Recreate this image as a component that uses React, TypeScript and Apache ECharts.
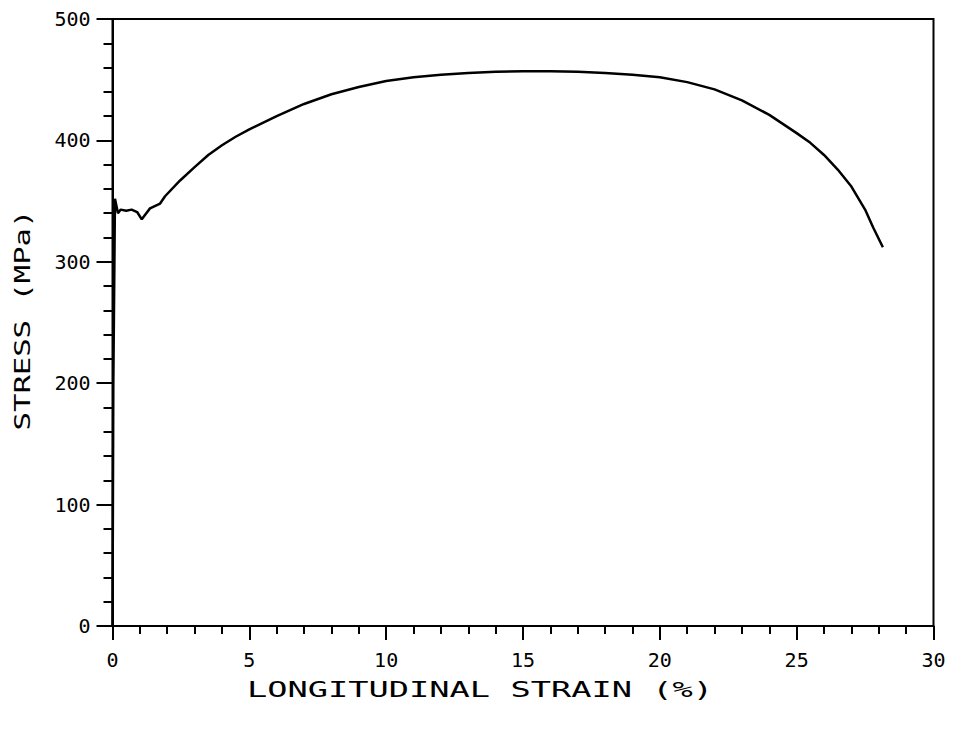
import React, { useEffect, useRef } from "react";
import * as echarts from "echarts";

const strain: number[] = [
  0, 0.03, 0.07, 0.09, 0.2, 0.3, 0.5, 0.7, 0.9, 1.07, 1.2, 1.37, 1.74, 1.92, 2.47,
  3.0, 3.5, 4.0, 4.5, 5, 6, 7, 8, 9, 10, 11, 12, 13, 14, 15, 16, 17, 18, 19, 20, 21, 22,
  23, 24, 25, 25.5, 26, 26.5, 27, 27.5, 27.8, 28.15,
];
const stress: number[] = [
  0, 200, 300, 352, 340, 343, 342, 343, 341, 335, 339, 344, 348, 354, 367,
  378, 388, 396, 403, 409, 420, 430, 438, 444, 449, 452, 454, 455.5, 456.5, 457, 457, 456.5, 455.5, 454, 452, 448, 442,
  433, 421, 406, 398, 388, 376, 362, 343, 328, 312,
];
const xTicks = { min: 0, max: 30, interval: 5 };
const yTicks = { min: 0, max: 500, interval: 100 };
const xName = "LONGITUDINAL STRAIN (%)";
const yName = "STRESS (MPa)";

export default function App() {
  const ref = useRef<HTMLDivElement>(null);
  useEffect(() => {
    if (!ref.current) return;
    const chart = echarts.init(ref.current, null, { renderer: "svg" });
    const font = '"DejaVu Sans Mono", monospace';
    chart.setOption({
      animation: false,
      backgroundColor: "#fff",
      grid: {
        left: 112.5,
        right: 19.5,
        top: 19,
        bottom: 110,
        show: true,
        borderColor: "#000",
        borderWidth: 2,
        containLabel: false,
      },
      xAxis: {
        type: "value",
        min: xTicks.min,
        max: xTicks.max,
        interval: xTicks.interval,
        axisLine: { show: true, lineStyle: { color: "#000", width: 2 } },
        axisTick: { show: true, length: 14, inside: false, lineStyle: { color: "#000", width: 2 } },
        minorTick: { show: true, splitNumber: 5, length: 8, lineStyle: { color: "#000", width: 2 } },
        splitLine: { show: false },
        axisLabel: { color: "#000", fontFamily: font, fontSize: 20, margin: 24 },
      },
      yAxis: {
        type: "value",
        min: yTicks.min,
        max: yTicks.max,
        interval: yTicks.interval,
        axisLine: { show: true, lineStyle: { color: "#000", width: 2 } },
        axisTick: { show: true, length: 16, inside: false, lineStyle: { color: "#000", width: 2 } },
        minorTick: { show: true, splitNumber: 5, length: 9, lineStyle: { color: "#000", width: 2 } },
        splitLine: { show: false },
        axisLabel: { color: "#000", fontFamily: font, fontSize: 20, margin: 22 },
      },
      graphic: [
        {
          type: "text",
          x: 480,
          y: 690,
          scaleX: 1.53,
          style: {
            text: xName,
            font: '22px "DejaVu Sans Mono"',
            fill: "#000",
            align: "center",
            verticalAlign: "middle",
          },
        },
        {
          type: "text",
          x: 22,
          y: 320,
          rotation: Math.PI / 2,
          scaleX: 1.39,
          style: {
            text: yName,
            font: '22px "DejaVu Sans Mono"',
            fill: "#000",
            align: "center",
            verticalAlign: "middle",
          },
        },
      ],
      series: [
        {
          type: "line",
          data: strain.map((s, i) => [s, stress[i]]),
          showSymbol: false,
          smooth: false,
          lineStyle: { color: "#000", width: 2.5 },
        },
      ],
    });
    return () => chart.dispose();
  }, []);
  return <div ref={ref} style={{ width: 953, height: 736, margin: -8 }} />;
}
